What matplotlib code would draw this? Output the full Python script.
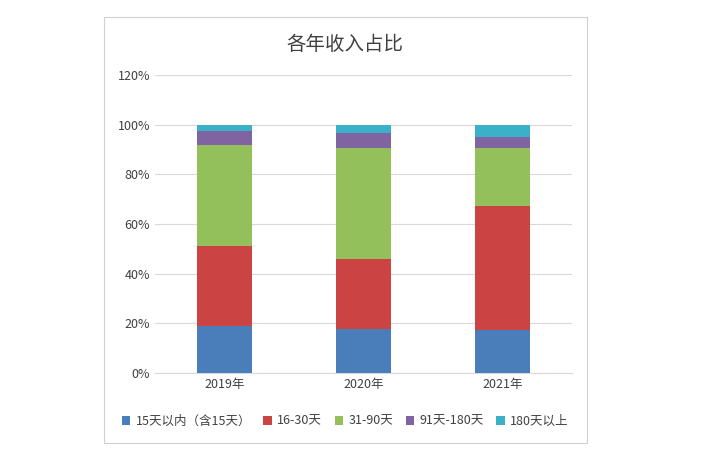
import matplotlib
matplotlib.use("Agg")
import matplotlib.pyplot as plt
from matplotlib.patches import Rectangle

plt.rcParams["font.family"] = ["Noto Sans CJK SC"]

categories = ["2019年", "2020年", "2021年"]
series_names = ["15天以内（含15天）", "16-30天", "31-90天", "91天-180天", "180天以上"]
s1 = [18.9, 17.7, 17.3]
s2 = [32.1, 28.1, 49.8]
s3 = [41.0, 45.0, 23.7]
s4 = [5.6, 6.0, 4.4]
s5 = [2.4, 3.2, 4.8]
colors = ["#4a7ebb", "#cb4343", "#93c05a", "#8064a2", "#3ab0c9"]

fig = plt.figure(figsize=(7.10, 4.62), dpi=100)
fig.patches.append(Rectangle((104/710, 1-443/462), (587-104)/710, (443-17)/462,
                             transform=fig.transFigure, fill=False, edgecolor="#d0d0d0", lw=0.8))
ax = fig.add_axes([155/710, 1-373/462, (572-155)/710, (373-75)/462])
x = range(len(categories))
bottom = [0, 0, 0]
for name, vals, c in zip(series_names, [s1, s2, s3, s4, s5], colors):
    ax.bar(x, vals, bottom=bottom, color=c, width=0.39, label=name, zorder=3)
    bottom = [b + v for b, v in zip(bottom, vals)]
ax.set_ylim(0, 120)
ax.set_xlim(-0.5, 2.5)
ax.set_yticks(range(0, 121, 20))
ax.set_yticklabels([f"{v}%" for v in range(0, 121, 20)], fontsize=9, color="#404040")
ax.set_xticks(list(x))
ax.set_xticklabels(categories, fontsize=9, color="#404040")
ax.grid(axis="y", color="#d9d9d9", lw=0.8, zorder=0)
for s in ["top", "right", "left"]:
    ax.spines[s].set_visible(False)
ax.spines["bottom"].set_color("#d9d9d9")
ax.tick_params(length=0)
fig.text(345/710, 1-45/462, "各年收入占比", ha="center", va="center", fontsize=14, color="#404040")
fig.legend(loc="center", bbox_to_anchor=(345/710, 1-421/462), ncol=5, frameon=False,
           fontsize=9, handlelength=0.7, handleheight=0.7, columnspacing=1.0, handletextpad=0.4,
           labelcolor="#404040")
fig.savefig("out.png")
